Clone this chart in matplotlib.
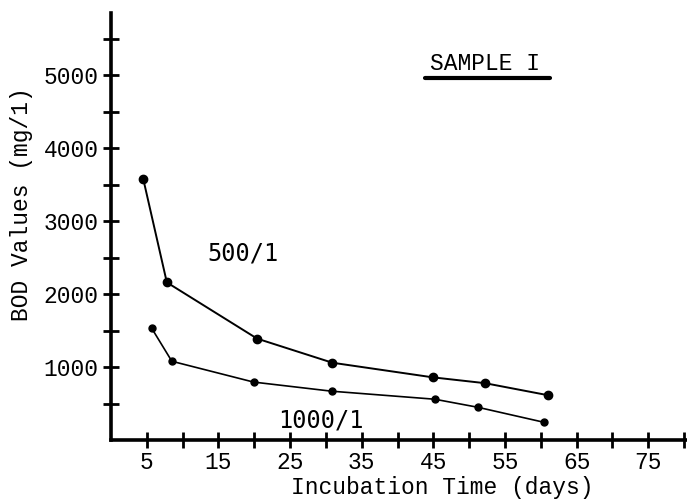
import matplotlib
matplotlib.use("Agg")
import matplotlib.pyplot as plt
from matplotlib.lines import Line2D

# BOD readings, sample I
dias_500 = [4.5, 7.8, 20.4, 30.9, 44.9, 52.2, 61.0]
bod_500 = [3580, 2160, 1390, 1060, 860, 780, 615]
dias_1000 = [5.7, 8.5, 19.9, 30.8, 45.2, 51.2, 60.4]
bod_1000 = [1530, 1080, 795, 670, 560, 450, 245]

xticks_major = list(range(5, 81, 5))
xtick_labels = [str(v) if v % 10 == 5 else "" for v in xticks_major]
yticks_major = [1000, 2000, 3000, 4000, 5000]
yticks_minor = [500, 1500, 2500, 3500, 4500, 5500]

plt.rcParams['font.family'] = ['Liberation Mono', 'DejaVu Sans Mono']
fonte = 16.5

fig = plt.figure(figsize=(6.87, 4.99), dpi=100)
ax = fig.add_axes([0.1615, 0.118, 0.8385, 0.856])

ax.plot(dias_500, bod_500, '-o', color='black', lw=1.4, ms=6)
ax.plot(dias_1000, bod_1000, '-o', color='black', lw=1.2, ms=5)

ax.set_xlim(0, 80.4)
ax.set_ylim(0, 5850)
ax.spines['top'].set_visible(False)
ax.spines['right'].set_visible(False)
ax.spines['left'].set_linewidth(2.6)
ax.spines['bottom'].set_linewidth(2.6)

ax.set_xticks(xticks_major)
ax.set_xticklabels(xtick_labels, fontsize=fonte)
ax.set_yticks(yticks_major)
ax.set_yticklabels([str(v) for v in yticks_major], fontsize=fonte)
ax.set_yticks(yticks_minor, minor=True)
ax.tick_params(axis='both', which='both', direction='inout', length=12,
               width=2)
ax.tick_params(axis='x', which='major', pad=2)
ax.tick_params(axis='y', which='major', pad=3)

ax.text(0.575, -0.112, "Incubation Time (days)", transform=ax.transAxes,
        ha='center', va='center', fontsize=fonte)
ax.text(-0.156, 0.553, "BOD Values (mg/1)", transform=ax.transAxes,
        ha='center', va='center', rotation=90, fontsize=fonte)

ax.text(52.2, 5160, "SAMPLE I", ha='center', va='center', fontsize=fonte)
ax.add_line(Line2D([0.545, 0.762], [0.847, 0.847], transform=ax.transAxes,
                   color='black', lw=3, solid_capstyle='round'))
ax.text(18.4, 2560, "500/1", ha='center', va='center', fontsize=17,
        family='DejaVu Sans Mono')
ax.text(29.3, 270, "1000/1", ha='center', va='center', fontsize=17,
        family='DejaVu Sans Mono')

fig.savefig("out.png", dpi=100)
